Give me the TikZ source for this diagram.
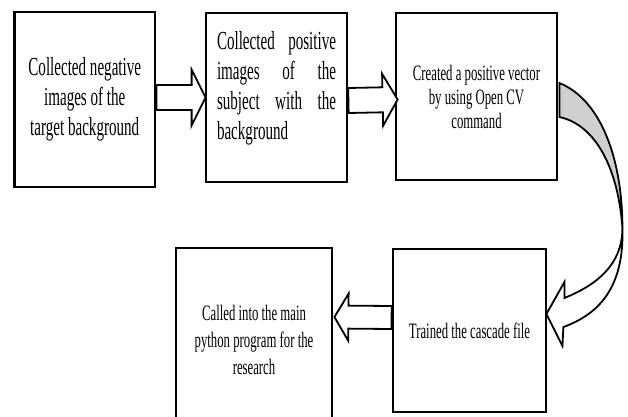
\documentclass[tikz,border=0pt]{standalone}
\usepackage{fontspec}
\setmainfont{Liberation Serif}
\newfontfamily\nar[FakeStretch=0.58]{Liberation Serif}
\usetikzlibrary{calc}
\definecolor{ribbongray}{RGB}{208,208,208}
\tikzset{
  box/.style={draw=black, line width=2.8pt, fill=white, inner sep=0pt, align=center},
  bigtxt/.style={font=\nar\fontsize{26}{30}\selectfont},
  midtxt/.style={font=\nar\fontsize{22}{24}\selectfont},
  lowtxt/.style={font=\nar\fontsize{22}{27}\selectfont},
  fatarr/.style={draw=black, line width=1.8pt, fill=white, line join=miter},
  ribbon/.style={draw=black, line width=1.8pt, line join=miter},
}
\newcommand{\myfatarrow}[5]{%
  \coordinate (fa-s) at (#1);
  \coordinate (fa-t) at (#2);
  \coordinate (fa-b) at ($(fa-t)!#5!(fa-s)$);
  \draw[fatarr] ($(fa-s)!#3!90:(fa-t)$) -- ($(fa-b)!#3!90:(fa-t)$) -- ($(fa-b)!#4!90:(fa-t)$) -- (fa-t) -- ($(fa-b)!#4!-90:(fa-t)$) -- ($(fa-b)!#3!-90:(fa-t)$) -- ($(fa-s)!#3!-90:(fa-t)$) -- cycle;
}
\begin{document}
\begin{tikzpicture}[x=1pt, y=-1pt]
\useasboundingbox (0,0) rectangle (628,416);
\clip (0,0) rectangle (628,416);
\fill[white] (0,0) rectangle (628,416);

\node[box, bigtxt, minimum width=140.5pt, minimum height=175pt] (b1) at (84.75,99.5)
  {Collected negative\\images of the\\target background};
\node[box, bigtxt, minimum width=141pt, minimum height=169pt, text width=119pt, align=left] (b2) at (276.5,97.5)
  {Collected\hfill positive\\images\hfill of\hfill the\\subject\hfill with\hfill the\\background\\[-6pt]\mbox{}};
\node[box, midtxt, minimum width=161pt, minimum height=167pt] (b3) at (476.5,96.5)
  {Created a positive vector\\by using Open CV\\command};
\node[box, lowtxt, minimum width=156pt, minimum height=184pt] (b4) at (254,340)
  {Called into the main\\python program for the\\research};
\node[box, lowtxt, minimum width=153pt, minimum height=163pt] (b5) at (469.5,330.5)
  {Trained the cascade file};

% straight block arrows
\myfatarrow{$(b1.east)+(0,-2)$}{$(b2.west)+(1,0)$}{12.5pt}{28pt}{14pt}
\myfatarrow{$(b2.east)+(0,3)$}{$(b3.west)+(3,3)$}{12.5pt}{26pt}{15pt}
\myfatarrow{$(b5.west)+(0,-13)$}{$(b4.east |- b5.west)+(1,-13.5)$}{11.5pt}{23.5pt}{14pt}

% curved twisted arrow from b3 to b5
\coordinate (ca) at ($(b3.east)+(1,-13.5)$);
\coordinate (cb) at ($(b3.east)+(1,20.5)$);
\coordinate (cx) at ($(b3.east)+(64,131.5)$);
\coordinate (nt) at ($(b5.east)+(17,-32.5)$);
\coordinate (bt) at ($(b5.east)+(17,-48.5)$);
\coordinate (tp) at ($(b5.east)+(-1,-16.5)$);
\coordinate (bb) at ($(b5.east)+(15,15.5)$);
\coordinate (nb) at ($(b5.east)+(16,-3.5)$);
\draw[ribbon, fill=ribbongray] (ca) .. controls +(42,17) and +(0,-68) .. (cx)
  .. controls +(-4,-58) and +(37,8) .. (cb) -- cycle;
\draw[ribbon, fill=white] (cx) .. controls +(0,37) and +(32,-13) .. (nt)
  -- (bt) -- (tp) -- (bb) -- (nb)
  .. controls +(33,-12) and +(2,62) .. (cx);
\end{tikzpicture}
\end{document}
